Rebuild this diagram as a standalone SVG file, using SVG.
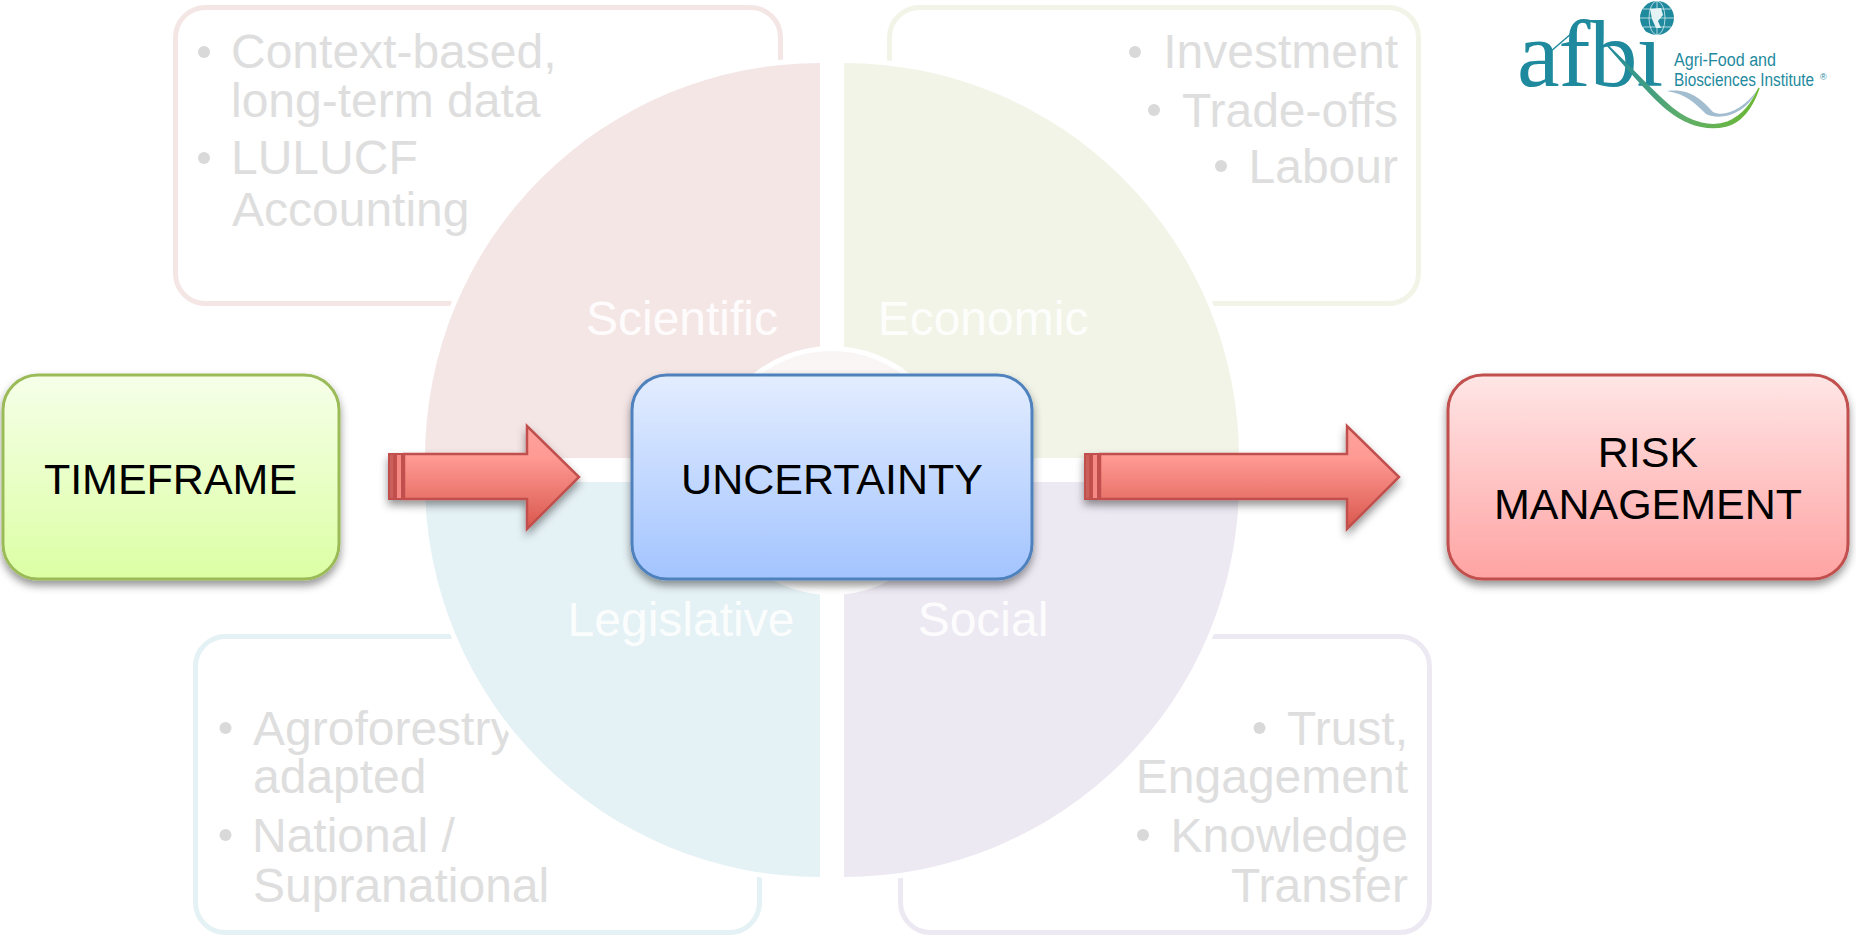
<svg xmlns="http://www.w3.org/2000/svg" width="1856" height="937" viewBox="0 0 1856 937">
<defs>
<linearGradient id="gGreen" x1="0" y1="0" x2="0" y2="1"><stop offset="0" stop-color="#f6ffe9"/><stop offset="1" stop-color="#dcffa4"/></linearGradient>
<linearGradient id="gBlue" x1="0" y1="0" x2="0" y2="1"><stop offset="0" stop-color="#e3edff"/><stop offset="1" stop-color="#a3c4ff"/></linearGradient>
<linearGradient id="gRed" x1="0" y1="0" x2="0" y2="1"><stop offset="0" stop-color="#ffe6e6"/><stop offset="1" stop-color="#ffa3a3"/></linearGradient>
<linearGradient id="gArrow" x1="0" y1="0" x2="0" y2="1"><stop offset="0" stop-color="#ffa29c"/><stop offset=".3" stop-color="#ff9a94"/><stop offset="1" stop-color="#d9574c"/></linearGradient>
<linearGradient id="gCore" x1="0" y1="0" x2="0" y2="1"><stop offset="0" stop-color="#f9f5f5"/><stop offset="1" stop-color="#fdfdfb"/></linearGradient>
<linearGradient id="gSwoosh" x1="0" y1="0" x2="1" y2="0"><stop offset="0" stop-color="#1f8a9e"/><stop offset=".5" stop-color="#5fae6a"/><stop offset="1" stop-color="#6cb832"/></linearGradient>
<filter id="shadow" x="-10%" y="-10%" width="120%" height="125%"><feDropShadow dx="0" dy="5" stdDeviation="4" flood-color="#000" flood-opacity=".42"/></filter>
</defs>
<style>
text{font-family:"Liberation Sans",Arial,sans-serif}
.frame{fill:#fff;stroke-width:5}
.item{font-size:48px;fill:#dedede}
.end{text-anchor:end}
.dot{fill:#d9d9d9}
.sector{stroke:#fff;stroke-width:10;paint-order:stroke}
.quad{font-size:48px;fill:#fff;fill-opacity:.9;text-anchor:middle}
.box{stroke-width:3;filter:url(#shadow)}
.lbl{font-size:43px;fill:#000;text-anchor:middle}
.arrow{fill:url(#gArrow);stroke:#c0504d;stroke-width:2.5}
.logo{fill:#1f8a9e}
</style>
<rect width="1856" height="937" fill="#fff"/>

<g id="detail-scientific">
<rect class="frame" x="175.500" y="7.500" width="605" height="296" rx="30" stroke="#f5e6e6"/>
<circle class="dot" cx="204" cy="52" r="6"/><circle class="dot" cx="204" cy="158" r="6"/>
<text class="item" x="231" y="68">Context-based,</text>
<text class="item" x="231" y="117">long-term data</text>
<text class="item" x="231" y="174">LULUCF</text>
<text class="item" x="232" y="226">Accounting</text>
</g>
<g id="detail-economic">
<rect class="frame" x="889.500" y="7.500" width="529" height="296" rx="30" stroke="#f1f4e7"/>
<circle class="dot" cx="1135" cy="52" r="6"/><circle class="dot" cx="1154" cy="110" r="6"/><circle class="dot" cx="1221" cy="166" r="6"/>
<text class="item end" x="1398" y="68">Investment</text>
<text class="item end" x="1398" y="127">Trade-offs</text>
<text class="item end" x="1398" y="183">Labour</text>
</g>
<g id="detail-legislative">
<rect class="frame" x="195.500" y="636.500" width="564" height="296" rx="30" stroke="#e4f1f5"/>
<circle class="dot" cx="225.500" cy="728" r="6"/><circle class="dot" cx="225.500" cy="835" r="6"/>
<text class="item" x="253" y="745">Agroforestry</text>
<text class="item" x="253" y="793">adapted</text>
<text class="item" x="252" y="852">National /</text>
<text class="item" x="253" y="902">Supranational</text>
</g>
<g id="detail-social">
<rect class="frame" x="900.500" y="636.500" width="529" height="296" rx="30" stroke="#ede9f3"/>
<circle class="dot" cx="1259.500" cy="728" r="6"/><circle class="dot" cx="1143" cy="835" r="6"/>
<text class="item end" x="1408" y="745">Trust,</text>
<text class="item end" x="1408" y="793">Engagement</text>
<text class="item end" x="1408" y="852">Knowledge</text>
<text class="item end" x="1408" y="902">Transfer</text>
</g>

<g id="sector-scientific"><path class="sector" d="M820 458V63A395 395 0 0 0 425 458Z" fill="#f5e6e6"/><text class="quad" x="682" y="335">Scientific</text></g>
<g id="sector-economic"><path class="sector" d="M844 458V63A395 395 0 0 1 1239 458Z" fill="#f1f4e7"/><text class="quad" x="983" y="335">Economic</text></g>
<g id="sector-legislative"><path class="sector" d="M820 482V877A395 395 0 0 1 425 482Z" fill="#e4f1f5"/><text class="quad" x="681" y="636">Legislative</text></g>
<g id="sector-social"><path class="sector" d="M844 482V877A395 395 0 0 0 1239 482Z" fill="#ede9f3"/><text class="quad" x="983" y="636">Social</text></g>

<g id="core"><circle cx="831.500" cy="470.500" r="122" fill="url(#gCore)" stroke="#fff" stroke-width="5"/></g>

<g id="timeframe">
<rect class="box" x="3" y="375" width="336" height="204" rx="35" fill="url(#gGreen)" stroke="#9bbb59"/>
<text class="lbl" x="170.500" y="494">TIMEFRAME</text>
</g>
<g id="uncertainty">
<rect class="box" x="632" y="375" width="400" height="204" rx="35" fill="url(#gBlue)" stroke="#4f81bd"/>
<text class="lbl" x="832" y="494">UNCERTAINTY</text>
</g>
<g id="risk-management">
<rect class="box" x="1448" y="375" width="400" height="204" rx="35" fill="url(#gRed)" stroke="#c0504d"/>
<text class="lbl" x="1648" y="467">RISK</text>
<text class="lbl" x="1648" y="519">MANAGEMENT</text>
</g>

<g id="connectors">
<g filter="url(#shadow)">
<rect x="389" y="454" width="5" height="45" fill="#c9605a" stroke="#c0504d" stroke-width="2"/>
<rect x="396" y="454" width="6" height="45" fill="#f58a84" stroke="#c0504d" stroke-width="2"/>
<path class="arrow" d="M404 454H527V426L579 477L527 529V499H404Z"/>
</g>
<g filter="url(#shadow)">
<rect x="1085" y="454" width="5" height="45" fill="#c9605a" stroke="#c0504d" stroke-width="2"/>
<rect x="1092" y="454" width="6" height="45" fill="#f58a84" stroke="#c0504d" stroke-width="2"/>
<path class="arrow" d="M1100 454H1347V426L1399 477L1347 529V499H1100Z"/>
</g>
</g>

<g id="logo">
<text x="1517" y="86" font-size="96" letter-spacing="-1" style="font-family:'Liberation Serif',serif" class="logo">afbi</text>
<path d="M1550 52L1572 33" stroke="#1f8a9e" stroke-width="1.500" fill="none"/>
<path d="M1667 91C1690 88 1702 100 1713 112C1725 118 1745 108 1757 90C1748 112 1722 122 1706 114C1695 103 1686 94 1667 91Z" fill="#a3bdd0"/>
<path d="M1606 44C1630 66 1652 92 1672 108C1692 124 1712 128 1728 122C1744 115 1752 103 1759 88C1752 108 1742 122 1726 126C1708 130 1688 126 1668 110C1648 94 1626 66 1606 44Z" fill="url(#gSwoosh)" stroke="url(#gSwoosh)" stroke-width="1.500"/>
<circle cx="1657" cy="18" r="17" fill="#1f8a9e"/>
<g fill="none" stroke="#d5ecef" stroke-width=".8"><ellipse cx="1657" cy="18" rx="8" ry="17"/><path d="M1657 1V35M1640 18H1674M1643 9H1671M1643 27H1671"/></g>
<path d="M1650 9L1661 8L1663 15L1658 21L1661 28L1656 28L1652 19Z" fill="#e6f3f5"/>
<text x="1674" y="66" font-size="18" textLength="102" lengthAdjust="spacingAndGlyphs" class="logo">Agri-Food and</text>
<text x="1674" y="86" font-size="18" textLength="140" lengthAdjust="spacingAndGlyphs" class="logo">Biosciences Institute</text>
<text x="1820" y="80" font-size="9" class="logo">®</text>
</g>
</svg>
